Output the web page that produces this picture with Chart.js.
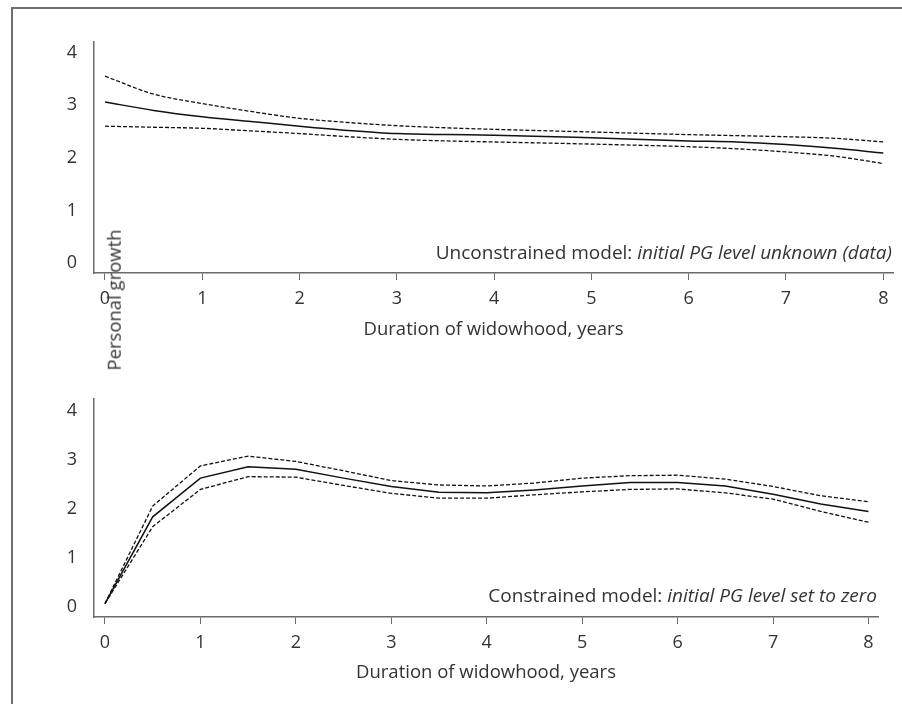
<!DOCTYPE html>
<html>
<head>
<meta charset="utf-8">
<script src="https://cdn.jsdelivr.net/npm/chart.js@4"></script>
<style>
  html, body { margin: 0; padding: 0; background: #fff; overflow: hidden; }
  body { width: 902px; height: 704px; position: relative; }
  #frame { position: absolute; left: 11px; top: 7px; width: 1000px; height: 1000px;
           border-left: 2px solid #6e6e6e; border-top: 2px solid #6e6e6e; }
  canvas { position: absolute; left: 0; }
  #c1 { top: 0; }
  #c2 { top: 352px; }
  #ylab { position: absolute; left: 114px; top: 300px; transform: translate(-50%, -50%) rotate(-90deg);
          font-family: "Open Sans", sans-serif; font-size: 18.5px; color: #333; white-space: nowrap; line-height: 1; }
</style>
</head>
<body>
<div id="frame"></div>
<canvas id="c1" width="902" height="352" style="width:902px;height:352px"></canvas>
<canvas id="c2" width="902" height="352" style="width:902px;height:352px"></canvas>
<div id="ylab">Personal growth</div>
<script>
// ---- Data ----
const xTicks = [0, 1, 2, 3, 4, 5, 6, 7, 8];
const yTicks = [0, 1, 2, 3, 4];

// Unconstrained model (top panel)
const xTop      = [0, 0.5, 1, 1.5, 2, 2.5, 3, 3.5, 4, 5, 6, 6.5, 7, 7.5, 8];
const topEst    = [3.06, 2.90, 2.78, 2.69, 2.60, 2.52, 2.46, 2.44, 2.43, 2.38, 2.32, 2.30, 2.25, 2.18, 2.09];
const topUpper  = [3.55, 3.21, 3.03, 2.88, 2.75, 2.67, 2.61, 2.57, 2.54, 2.49, 2.44, 2.42, 2.40, 2.37, 2.30];
const topLower  = [2.60, 2.58, 2.56, 2.51, 2.46, 2.40, 2.35, 2.32, 2.30, 2.26, 2.21, 2.17, 2.11, 2.03, 1.89];

// Constrained model (bottom panel)
const xBot      = [0, 0.5, 1, 1.5, 2, 2.5, 3, 3.5, 4, 4.5, 5, 5.5, 6, 6.5, 7, 7.5, 8];
const botEst    = [0.07, 1.84, 2.63, 2.86, 2.81, 2.63, 2.46, 2.34, 2.33, 2.39, 2.47, 2.54, 2.54, 2.47, 2.30, 2.10, 1.95];
const botUpper  = [0.07, 2.06, 2.88, 3.08, 2.97, 2.78, 2.58, 2.49, 2.47, 2.53, 2.63, 2.68, 2.69, 2.61, 2.46, 2.27, 2.15];
const botLower  = [0.07, 1.64, 2.40, 2.66, 2.65, 2.48, 2.32, 2.22, 2.22, 2.29, 2.35, 2.40, 2.41, 2.33, 2.20, 1.95, 1.73];

const xTitle = "Duration of widowhood, years";
const topNote = ["Unconstrained model: ", "initial PG level unknown (data)"];
const botNote = ["Constrained model: ", "initial PG level set to zero"];

// ---- Helpers ----
const FONT = '"Open Sans", sans-serif';
const TXT = '#333333';
const AXIS = '#6a6a6a';
const NOTE_SIZE = 19;

function pts(xs, ys) { return xs.map((x, i) => ({ x: x, y: ys[i] })); }

function notePlugin(parts, dy) {
  return {
    id: 'note',
    afterDraw(chart) {
      const ctx = chart.ctx, ca = chart.chartArea;
      ctx.save();
      ctx.fillStyle = TXT;
      ctx.textBaseline = 'alphabetic';
      ctx.font = 'italic ' + NOTE_SIZE + 'px ' + FONT;
      const w2 = ctx.measureText(parts[1]).width;
      ctx.font = NOTE_SIZE + 'px ' + FONT;
      const w1 = ctx.measureText(parts[0]).width;
      const right = ca.right - 1;
      const y = ca.bottom - dy;
      ctx.textAlign = 'left';
      ctx.fillText(parts[0], right - w2 - w1, y);
      ctx.font = 'italic ' + NOTE_SIZE + 'px ' + FONT;
      ctx.fillText(parts[1], right - w2, y);
      ctx.restore();
    }
  };
}

function makeChart(id, cfg) {
  const ds = (data, dashed) => ({
    data: data,
    borderColor: '#111',
    borderWidth: dashed ? 1.3 : 1.5,
    borderDash: dashed ? [4, 2] : [],
    pointRadius: 0,
    fill: false,
    tension: cfg.tension,
    cubicInterpolationMode: cfg.mono ? 'monotone' : 'default'
  });
  return new Chart(document.getElementById(id), {
    type: 'line',
    data: {
      datasets: [
        ds(pts(cfg.xs, cfg.upper), true),
        ds(pts(cfg.xs, cfg.est), false),
        ds(pts(cfg.xs, cfg.lower), true)
      ]
    },
    options: {
      responsive: false,
      animation: false,
      events: [],
      layout: { padding: { left: 0, top: cfg.padTop, right: cfg.padRight, bottom: 0 } },
      plugins: { legend: { display: false }, tooltip: { enabled: false }, title: { display: false } },
      scales: {
        x: {
          type: 'linear',
          min: cfg.xmin, max: cfg.xmax,
          afterBuildTicks: s => { s.ticks = xTicks.map(v => ({ value: v })); },
          afterFit: s => { s.height = cfg.xAxisH; },
          grid: { drawOnChartArea: false, drawTicks: true, tickLength: 7, color: AXIS, lineWidth: 1 },
          border: { display: true, color: AXIS, width: 1.5 },
          ticks: { color: TXT, font: { family: FONT, size: 18 }, padding: cfg.tickPad, maxRotation: 0 },
          title: { display: true, text: xTitle, color: TXT, font: { family: FONT, size: 18.5 },
                   padding: { top: 0, bottom: cfg.titlePad } }
        },
        y: {
          type: 'linear',
          min: cfg.ymin, max: cfg.ymax,
          afterBuildTicks: s => { s.ticks = yTicks.map(v => ({ value: v })); },
          afterFit: s => { s.width = 94; },
          grid: { drawOnChartArea: false, drawTicks: false, color: AXIS },
          border: { display: true, color: AXIS, width: 1.5 },
          ticks: { color: TXT, font: { family: FONT, size: 18 }, padding: 17 }
        }
      }
    },
    plugins: [notePlugin(cfg.note, cfg.noteDy)]
  });
}

makeChart('c1', {
  xs: xTop, est: topEst, upper: topUpper, lower: topLower,
  tension: 0.4, mono: true,
  xmin: -0.113, xmax: 8.10, ymin: -0.19, ymax: 4.2,
  padTop: 42, padRight: 9, xAxisH: 352 - 273, titlePad: 11, tickPad: 8,
  note: topNote, noteDy: 14
});

makeChart('c2', {
  xs: xBot, est: botEst, upper: botUpper, lower: botLower,
  tension: 0, mono: false,
  xmin: -0.115, xmax: 8.10, ymin: -0.204, ymax: 4.245,
  padTop: 47, padRight: 24, xAxisH: 352 - 265, titlePad: 20, tickPad: 8,
  note: botNote, noteDy: 15
});
</script>
</body>
</html>
